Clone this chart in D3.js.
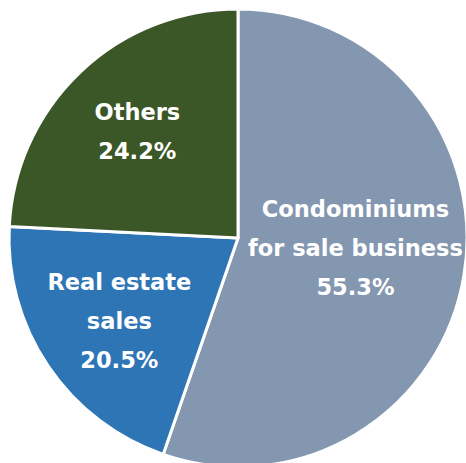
<!DOCTYPE html>
<html>
<head>
<meta charset="utf-8">
<script src="https://cdn.jsdelivr.net/npm/d3@7"></script>
<style>
  html, body { margin: 0; padding: 0; background: #fff; }
  svg { display: block; }
  .label { font-family: "DejaVu Sans", Verdana, sans-serif; font-weight: bold; fill: #fff; }
</style>
</head>
<body>
<div id="chart"></div>
<script>
// data
const categories = ["Condominiums\nfor sale business", "Real estate\nsales", "Others"];
const shares = [55.3, 20.5, 24.2];
const colors = ["#8497b0", "#2e75b6", "#3b5727"];

const width = 466, height = 463;
const cx = 238, cy = 238, radius = 229;

const svg = d3.select("#chart").append("svg")
    .attr("width", width)
    .attr("height", height);

const g = svg.append("g").attr("transform", `translate(${cx},${cy})`);

const pie = d3.pie().sort(null).value(d => d.value);
const arcs = pie(shares.map((v, i) => ({ name: categories[i], value: v, color: colors[i] })));

const arc = d3.arc().innerRadius(0).outerRadius(radius);

g.selectAll("path.slice")
    .data(arcs)
    .join("path")
    .attr("class", "slice")
    .attr("d", arc)
    .attr("fill", d => d.data.color)
    .attr("stroke", "#fff")
    .attr("stroke-width", 3)
    .attr("stroke-linejoin", "round");

// label anchors: radius fraction along the mid angle, plus a small nudge
const labelArc = [0.52, 0.62, 0.6];
const nudge = [[0, -10], [-1, 4], [-6, -7]];
const lineH = 39;

g.selectAll("text.label")
    .data(arcs)
    .join("text")
    .attr("class", "label")
    .attr("text-anchor", "middle")
    .style("font-size", "22.5px")
    .each(function(d, i) {
        const r = radius * labelArc[i];
        const a = (d.startAngle + d.endAngle) / 2;
        const x = Math.sin(a) * r + nudge[i][0], y = -Math.cos(a) * r + nudge[i][1];
        const lines = d.data.name.split("\n").concat([d.data.value.toFixed(1) + "%"]);
        const t = d3.select(this);
        lines.forEach((ln, j) => {
            t.append("tspan")
                .attr("x", x)
                .attr("y", y + (j - (lines.length - 1) / 2) * lineH)
                .attr("dy", "0.35em")
                .text(ln);
        });
    });
</script>
</body>
</html>
